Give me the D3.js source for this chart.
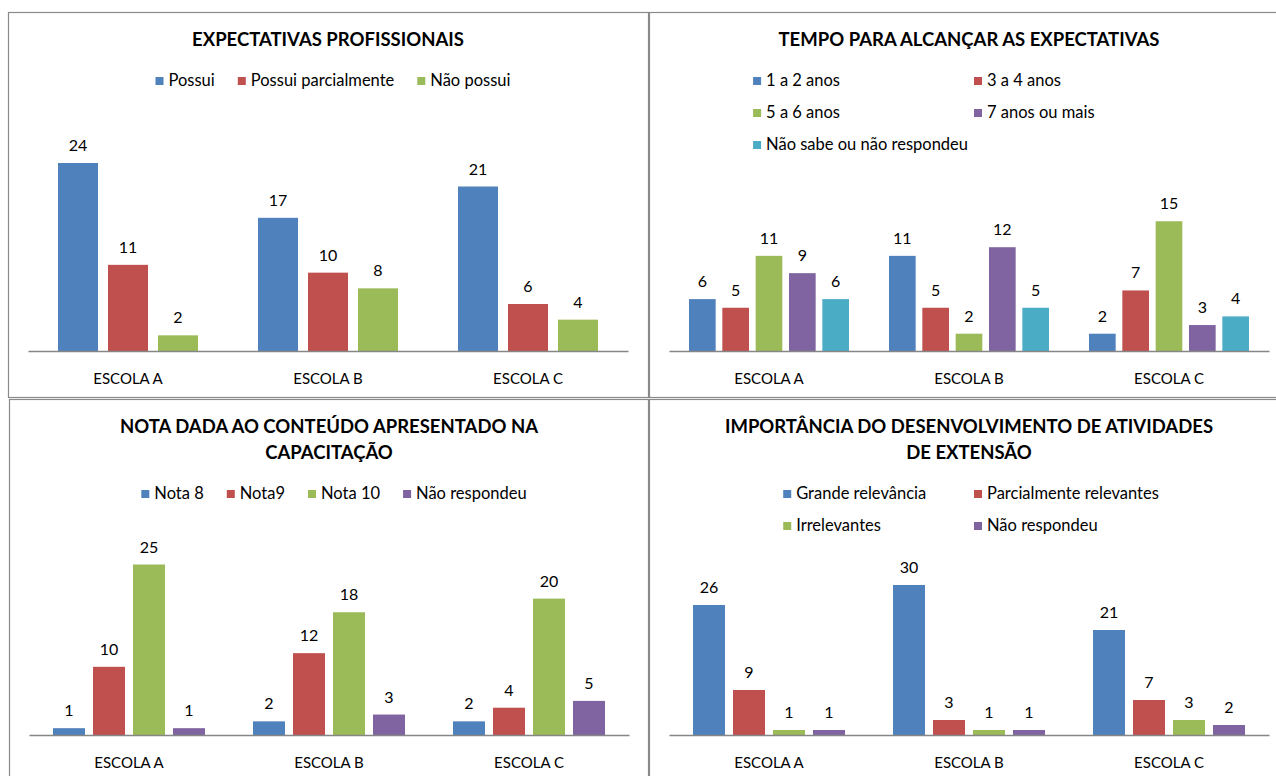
<!DOCTYPE html>
<html>
<head>
<meta charset="utf-8">
<script src="https://cdn.jsdelivr.net/npm/d3@7"></script>
<style>
  html, body { margin: 0; padding: 0; background: #fff; }
  svg { display: block; }
  text { font-family: Lato, "Open Sans", sans-serif; fill: #000; }
</style>
</head>
<body>
<svg id="chart" width="1276" height="776"></svg>
<script>
// ---------- DATA ----------
const categories = ["ESCOLA A", "ESCOLA B", "ESCOLA C"];
const seriesColors = ["#4F81BD", "#C0504D", "#9BBB59", "#8064A2", "#4BACC6"];

const title1 = ["EXPECTATIVAS PROFISSIONAIS"];
const series1 = ["Possui", "Possui parcialmente", "Não possui"];
const values1 = [[24, 11, 2], [17, 10, 8], [21, 6, 4]];

const title2 = ["TEMPO PARA ALCANÇAR AS EXPECTATIVAS"];
const series2 = ["1 a 2 anos", "3 a 4 anos", "5 a 6 anos", "7 anos ou mais", "Não sabe ou não respondeu"];
const values2 = [[6, 5, 11, 9, 6], [11, 5, 2, 12, 5], [2, 7, 15, 3, 4]];

const title3 = ["NOTA DADA AO CONTEÚDO APRESENTADO NA", "CAPACITAÇÃO"];
const series3 = ["Nota 8", "Nota9", "Nota 10", "Não respondeu"];
const values3 = [[1, 10, 25, 1], [2, 12, 18, 3], [2, 4, 20, 5]];

const title4 = ["IMPORTÂNCIA DO DESENVOLVIMENTO DE ATIVIDADES", "DE EXTENSÃO"];
const series4 = ["Grande relevância", "Parcialmente relevantes", "Irrelevantes", "Não respondeu"];
const values4 = [[26, 9, 1, 1], [30, 3, 1, 1], [21, 7, 3, 2]];

// ---------- LAYOUT ----------
const svg = d3.select("#chart");

const charts = [
  { panel: [8.5, 12.5, 640, 385], title: title1, series: series1, values: values1,
    axisX: [28, 628], baseY: 351, topY: 116, axisMax: 30, titleY: 46,
    legendCols: 0, legendY: [81] },
  { panel: [649.5, 12.5, 640, 385], title: title2, series: series2, values: values2,
    axisX: [669, 1269], baseY: 351, topY: 212.6, axisMax: 16, titleY: 46,
    legendCols: 2, legendY: [81, 113, 145] },
  { panel: [9.5, 399.5, 639, 400], title: title3, series: series3, values: values3,
    axisX: [29, 629], baseY: 735, topY: 530.4, axisMax: 30, titleY: 433,
    legendCols: 0, legendY: [494] },
  { panel: [649.5, 399.5, 640, 400], title: title4, series: series4, values: values4,
    axisX: [669, 1269], baseY: 735, topY: 560, axisMax: 35, titleY: 433,
    legendCols: 2, legendY: [494, 526] }
];

function drawChart(cfg) {
  const g = svg.append("g");
  const [px, py, pw, ph] = cfg.panel;
  g.append("rect").attr("x", px).attr("y", py).attr("width", pw).attr("height", ph)
    .attr("fill", "none").attr("stroke", "#8a8a8a").attr("stroke-width", 1.2);

  const cx = (cfg.axisX[0] + cfg.axisX[1]) / 2;

  // Title
  cfg.title.forEach((line, i) => {
    g.append("text").attr("x", cx).attr("y", cfg.titleY + i * 26)
      .attr("text-anchor", "middle").attr("font-weight", "bold")
      .attr("font-size", 18.5).text(line);
  });

  // Legend
  const lg = g.append("g");
  const items = cfg.series.map((s, i) => {
    const it = lg.append("g");
    it.append("rect").attr("width", 8).attr("height", 8).attr("fill", seriesColors[i]);
    const t = it.append("text").attr("x", 13).attr("y", 9).attr("font-size", 16.5).text(s);
    return { g: it, w: 13 + t.node().getComputedTextLength() };
  });
  const lcx = cx + 5;
  if (cfg.legendCols === 0) {
    const gap = 23;
    const total = d3.sum(items, d => d.w) + gap * (items.length - 1);
    let xx = lcx - total / 2;
    items.forEach(it => {
      it.g.attr("transform", `translate(${xx},${cfg.legendY[0] - 4})`);
      xx += it.w + gap;
    });
  } else {
    const colW = d3.max(items, d => d.w) + 6;
    const start = lcx - cfg.legendCols * colW / 2;
    items.forEach((it, i) => {
      const c = i % cfg.legendCols, r = Math.floor(i / cfg.legendCols);
      it.g.attr("transform", `translate(${start + c * colW},${cfg.legendY[r] - 4})`);
    });
  }

  // Scales
  const x0 = d3.scaleBand().domain(categories).range(cfg.axisX);
  const x1 = d3.scaleBand().domain(d3.range(cfg.series.length))
    .range([0, x0.bandwidth()]).paddingInner(0.2).paddingOuter(0.6);
  const y = d3.scaleLinear().domain([0, cfg.axisMax]).range([cfg.baseY, cfg.topY]);

  // Bars
  categories.forEach((cat, ci) => {
    const grp = g.append("g").attr("transform", `translate(${x0(cat)},0)`);
    grp.selectAll("rect.bar").data(cfg.values[ci]).join("rect")
      .attr("class", "bar")
      .attr("x", (d, i) => x1(i)).attr("width", x1.bandwidth())
      .attr("y", d => y(d)).attr("height", d => y(0) - y(d))
      .attr("fill", (d, i) => seriesColors[i]);
    grp.selectAll("text.val").data(cfg.values[ci]).join("text")
      .attr("class", "val")
      .attr("x", (d, i) => x1(i) + x1.bandwidth() / 2)
      .attr("y", d => y(d) - 12)
      .attr("text-anchor", "middle").attr("font-size", 16)
      .text(d => d);
  });

  // Category axis
  const ax = g.append("g").attr("transform", `translate(0,${cfg.baseY})`)
    .call(d3.axisBottom(x0).tickSize(0).tickSizeOuter(0).tickPadding(22));
  ax.select(".domain").attr("stroke", "#868686").attr("stroke-width", 1.3);
  ax.selectAll("text").attr("font-size", 15).attr("font-family", "Lato, 'Open Sans', sans-serif").attr("fill", "#000");
}

charts.forEach(drawChart);
</script>
</body>
</html>
